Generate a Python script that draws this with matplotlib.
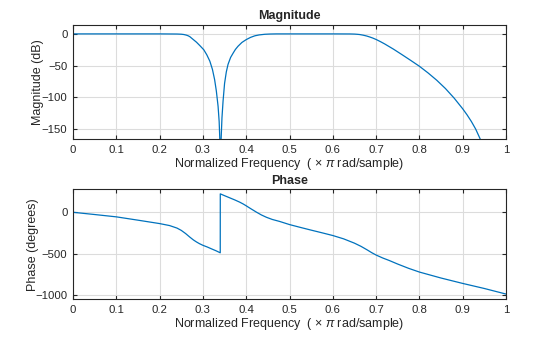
import matplotlib
matplotlib.use("Agg")
import matplotlib.pyplot as plt
from matplotlib.ticker import FixedLocator

# ─────────────────────────────
# DATA
# ─────────────────────────────
mag_freq = [0.0, 0.1, 0.2, 0.24, 0.25, 0.256, 0.262, 0.266, 0.27, 0.277,
            0.285, 0.293, 0.302, 0.309, 0.316, 0.322, 0.327,
            0.331, 0.335, 0.3375, 0.3395, 0.3405, 0.3415, 0.344, 0.3465,
            0.350, 0.354, 0.358, 0.364, 0.37, 0.375, 0.381, 0.39, 0.40,
            0.41, 0.42, 0.43, 0.443, 0.455, 0.47, 0.6, 0.64, 0.65, 0.656,
            0.662, 0.67, 0.678, 0.685, 0.692, 0.7, 0.71, 0.72, 0.74, 0.76,
            0.78, 0.8, 0.82, 0.84, 0.86, 0.88, 0.9, 0.91, 0.92, 0.93, 0.94, 0.95]
mag_db = [0.0, 0.0, 0.0, -0.2, -0.5, -1.0, -2.0, -3.0, -4.5, -8.5,
          -13.0, -18.5, -25.0, -33.0, -43.0, -56.0, -72.0,
          -90.0, -114.0, -138.0, -175.0, -260.0, -175.0, -132.0, -106.0,
          -78.0, -60.0, -48.0, -37.0, -30.0, -24.5, -19.5, -13.5, -9.0,
          -5.5, -3.0, -1.6, -0.6, -0.2, 0.0, 0.0, -0.1, -0.3, -0.6,
          -1.0, -2.0, -3.3, -4.8, -6.5, -8.8, -12.2, -15.9, -24.0, -32.8,
          -41.8, -51.0, -61.5, -73.0, -86.0, -101.0, -118.0, -127.5, -138.0,
          -150.0, -165.0, -183.0]

ph_freq = [0.0, 0.05, 0.1, 0.15, 0.2, 0.223, 0.24, 0.25, 0.26, 0.2695,
           0.278, 0.285, 0.292, 0.3, 0.31, 0.3196, 0.33, 0.340, 0.3401,
           0.35, 0.362, 0.374, 0.385, 0.393, 0.4, 0.41, 0.4235, 0.435,
           0.4466, 0.46, 0.477, 0.5, 0.525, 0.55, 0.575, 0.6, 0.625, 0.65,
           0.665, 0.68, 0.69, 0.7, 0.715, 0.73, 0.75, 0.775, 0.8, 0.85,
           0.9, 0.95, 1.0]
ph_deg = [0.0, -27.0, -55.0, -95.0, -136.0, -160.0, -190.0, -218.0, -256.0,
          -298.0, -333.0, -357.0, -378.0, -398.0, -418.0, -440.0, -463.0,
          -488.0, 222.0, 200.0, 174.0, 148.0, 122.0, 100.0, 78.0, 45.0, 2.0,
          -32.0, -60.0, -86.0, -110.0, -148.0, -182.0, -215.0, -247.0, -280.0,
          -320.0, -372.0, -410.0, -455.0, -487.0, -515.0, -550.0, -580.0,
          -624.0, -675.0, -720.0, -792.0, -857.0, -918.0, -985.0]

x_ticks = [0, 0.1, 0.2, 0.3, 0.4, 0.5, 0.6, 0.7, 0.8, 0.9, 1]
x_tick_labels = ['0', '0.1', '0.2', '0.3', '0.4', '0.5', '0.6', '0.7', '0.8', '0.9', '1']
mag_ticks = [0, -50, -100, -150]
ph_ticks = [0, -500, -1000]

xlabel_text = 'Normalized Frequency  ( $\\times$ $\\pi$ rad/sample)'

# ─────────────────────────────
# STYLE
# ─────────────────────────────
plt.rcParams['font.family'] = ['Liberation Sans', 'DejaVu Sans']
plt.rcParams['mathtext.fontset'] = 'custom'
plt.rcParams['mathtext.rm'] = 'Liberation Sans'
plt.rcParams['mathtext.it'] = 'Liberation Sans:italic'

dark = '#262626'
line_col = '#0072BD'

fig = plt.figure(figsize=(5.6, 3.37), dpi=100)
ax1 = fig.add_axes([0.1304, 0.5867, 0.7732, 0.3391])
ax2 = fig.add_axes([0.1304, 0.1119, 0.7732, 0.3264])


def style_axes(ax):
    ax.set_xlim(0, 1)
    ax.xaxis.set_major_locator(FixedLocator(x_ticks))
    ax.set_xticklabels(x_tick_labels)
    ax.grid(True, color='#dcdcdc', linewidth=0.8)
    ax.set_axisbelow(True)
    for sp in ax.spines.values():
        sp.set_color(dark)
        sp.set_linewidth(0.8)
    ax.tick_params(direction='in', top=True, right=True, length=3,
                   width=0.8, color=dark, labelcolor=dark, labelsize=8.2, pad=4)
    ax.set_xlabel(xlabel_text, fontsize=9, color=dark, labelpad=1)


ax1.plot(mag_freq, mag_db, color=line_col, linewidth=0.9)
style_axes(ax1)
ax1.set_ylim(-166, 14)
ax1.yaxis.set_major_locator(FixedLocator(mag_ticks))
ax1.set_ylabel('Magnitude (dB)', fontsize=9, color=dark, labelpad=-1.5)
ax1.set_title('Magnitude', fontsize=9, fontweight='bold', color=dark, pad=4)

ax2.plot(ph_freq, ph_deg, color=line_col, linewidth=0.9)
style_axes(ax2)
ax2.set_ylim(-1048, 277)
ax2.yaxis.set_major_locator(FixedLocator(ph_ticks))
ax2.set_ylabel('Phase (degrees)', fontsize=9, color=dark, labelpad=-2.5)
ax2.set_title('Phase', fontsize=9, fontweight='bold', color=dark, pad=4)

fig.savefig('out.png', dpi=100)
